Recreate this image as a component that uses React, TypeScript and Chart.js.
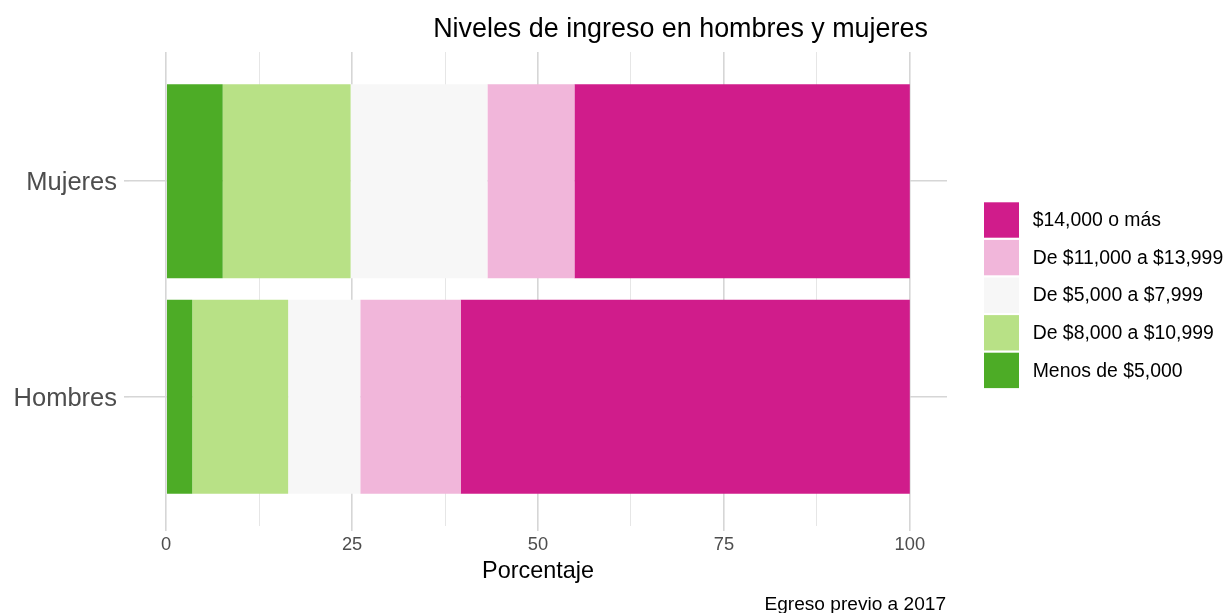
import React, { useEffect, useRef } from "react";
import { Chart, registerables } from "chart.js";

Chart.register(...registerables);

// ---------- data ----------
const categories = ["Hombres", "Mujeres"];
const categoryPositions = [1, 2];
const seriesNames = [
  "Menos de $5,000",
  "De $8,000 a $10,999",
  "De $5,000 a $7,999",
  "De $11,000 a $13,999",
  "$14,000 o más",
];
const menos5000 = [3.5, 7.6];
const de8000a10999 = [12.9, 17.2];
const de5000a7999 = [9.7, 18.4];
const de11000a13999 = [13.5, 11.7];
const mas14000 = [60.4, 45.1];
const seriesColors = ["#4DAC26", "#B8E186", "#F7F7F7", "#F1B6DA", "#D01C8B"];
const xMajorTicks = [0, 25, 50, 75, 100];
const xMinorTicks = [12.5, 37.5, 62.5, 87.5];
const chartTitle = "Niveles de ingreso en hombres y mujeres";
const xTitle = "Porcentaje";
const caption = "Egreso previo a 2017";

const FONT = '"Liberation Sans", Arial, Helvetica, sans-serif';
const FAMILY = "'Liberation Sans', Arial, Helvetica, sans-serif";

const seriesValues = [menos5000, de8000a10999, de5000a7999, de11000a13999, mas14000];

const decorPlugin = {
  id: "decor",
  afterDraw(chart: any) {
    const ctx = chart.ctx as CanvasRenderingContext2D;
    const area = chart.chartArea;
    ctx.save();
    // title
    ctx.fillStyle = "#000000";
    ctx.font = `26.9px ${FONT}`;
    ctx.textAlign = "center";
    ctx.textBaseline = "alphabetic";
    ctx.fillText(chartTitle, 680.5, 36.7);
    // caption
    ctx.font = `19.1px ${FONT}`;
    ctx.textAlign = "right";
    ctx.fillText(caption, area.right - 1, 609.5);
    // legend (reversed order)
    const ds = chart.data.datasets.slice().reverse();
    const keyX = area.right + 37;
    const keyTop = 202.3;
    const pitch = 37.6;
    const keyW = 35;
    const keyH = 35.4;
    ds.forEach((d: any, i: number) => {
      const y = keyTop + i * pitch;
      ctx.fillStyle = d.backgroundColor;
      ctx.fillRect(keyX, y, keyW, keyH);
      ctx.fillStyle = "#000000";
      ctx.font = `19.4px ${FONT}`;
      ctx.textAlign = "left";
      ctx.textBaseline = "middle";
      ctx.fillText(d.label, keyX + keyW + 13.7, y + keyH / 2 + 0.8);
    });
    ctx.restore();
  },
};

export default function App() {
  const canvasRef = useRef<HTMLCanvasElement | null>(null);

  useEffect(() => {
    if (!canvasRef.current) return;
    const allXTicks = [...xMajorTicks, ...xMinorTicks].sort((a, b) => a - b);
    const isMajor = (v: number) => xMajorTicks.includes(v);

    const chart = new Chart(canvasRef.current, {
      type: "bar",
      data: {
        datasets: seriesNames.map((name, i) => ({
          label: name,
          data: categoryPositions.map((p, j) => ({ x: seriesValues[i][j], y: p })),
          backgroundColor: seriesColors[i],
          borderWidth: 0,
          categoryPercentage: 1,
          barPercentage: 0.9,
        })),
      },
      options: {
        indexAxis: "y",
        responsive: false,
        animation: false,
        maintainAspectRatio: false,
        layout: { padding: { top: 52, right: 280, left: 0, bottom: 0 } },
        plugins: {
          legend: { display: false },
          tooltip: { enabled: false },
          title: { display: false },
        },
        scales: {
          x: {
            type: "linear",
            stacked: true,
            offset: false,
            min: -5,
            max: 105,
            afterBuildTicks: (s: any) => {
              s.ticks = allXTicks.map((v) => ({ value: v }));
            },
            afterFit: (s: any) => {
              s.height = 87;
            },
            ticks: {
              autoSkip: false,
              maxRotation: 0,
              padding: 3,
              color: "#4d4d4d",
              font: { family: FAMILY, size: 18.3 },
              callback: (v: any) => (isMajor(Number(v)) ? String(v) : ""),
            },
            grid: {
              offset: false,
              color: (c: any) => (c.tick && isMajor(c.tick.value) ? "#d6d6d6" : "#e6e6e6"),
              lineWidth: (c: any) => (c.tick && isMajor(c.tick.value) ? 1.6 : 1),
              drawTicks: true,
              tickLength: 5,
              tickColor: (c: any) => (c.tick && isMajor(c.tick.value) ? "#d6d6d6" : "rgba(0,0,0,0)"),
              tickWidth: 1.6,
            },
            border: { display: false },
            title: {
              display: true,
              text: xTitle,
              color: "#000000",
              font: { family: FAMILY, size: 23.4 },
              padding: { top: 0, bottom: 27 },
            },
          },
          y: {
            type: "linear",
            stacked: true,
            offset: false,
            min: 0.4,
            max: 2.6,
            afterBuildTicks: (s: any) => {
              s.ticks = categoryPositions.map((v) => ({ value: v }));
            },
            afterFit: (s: any) => {
              s.width = 129;
            },
            ticks: {
              autoSkip: false,
              padding: 7,
              labelOffset: 2,
              color: "#4d4d4d",
              font: { family: FAMILY, size: 25.5 },
              callback: (v: any) => {
                const idx = categoryPositions.indexOf(Number(v));
                return idx >= 0 ? categories[idx] : "";
              },
            },
            grid: {
              offset: false,
              color: "#d6d6d6",
              lineWidth: 1.6,
              drawTicks: true,
              tickLength: 5,
              tickColor: "#d6d6d6",
              tickWidth: 1.6,
            },
            border: { display: false },
          },
        },
      } as any,
      plugins: [decorPlugin],
    });
    return () => chart.destroy();
  }, []);

  return (
    <div style={{ position: "absolute", left: 0, top: 0, width: 1227, height: 613, background: "#ffffff" }}>
      <canvas ref={canvasRef} width={1227} height={613} style={{ display: "block", width: 1227, height: 613 }} />
    </div>
  );
}
